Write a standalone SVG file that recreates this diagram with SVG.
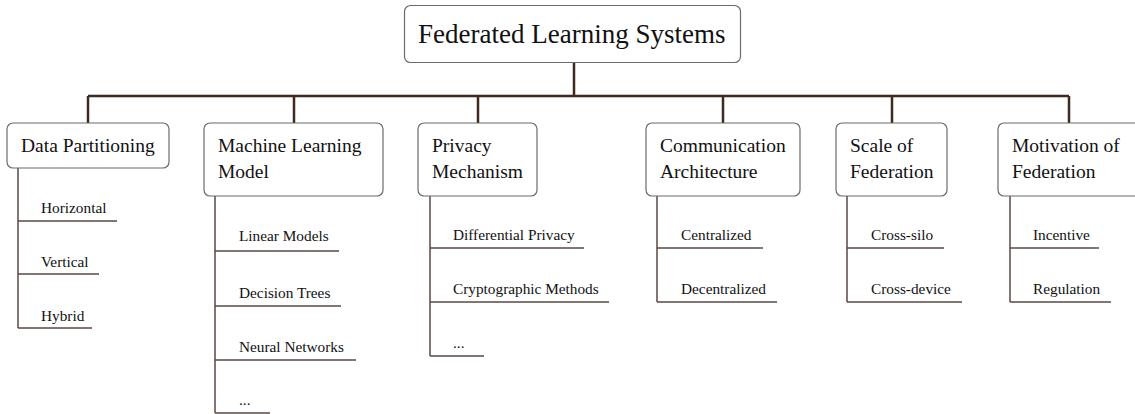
<svg xmlns="http://www.w3.org/2000/svg" width="1135" height="414" viewBox="0 0 1135 414">
<style>
.box{fill:#fff;stroke:#6b6b6b;stroke-width:1.2}
.bus{fill:none;stroke:#3d2a20;stroke-width:2.5}
.sub{fill:none;stroke:#5a4a44;stroke-width:1.5}
.t{font-family:"Liberation Serif","Times New Roman",serif;fill:#111}
.h{font-size:19.5px}
.s{font-size:15.3px}
</style>
<rect width="1135" height="414" fill="#fff"/>
<g id="connectors">
<path class="bus" d="M574 62V96M88 96H1069M88 96V123M294 96V123M478 96V123M723 96V123M892 96V123M1069 96V123"/>
<path class="sub" d="M18 168V328M18 221H117M18 274H99M18 328H92"/>
<path class="sub" d="M215 196V413M215 251H339M215 306H341M215 360H356M215 413H270"/>
<path class="sub" d="M430 196V356M430 248H584M430 302H609M430 356H484"/>
<path class="sub" d="M657 196V302M657 248H763M657 302H777"/>
<path class="sub" d="M847 196V302M847 248H944M847 302H962"/>
<path class="sub" d="M1010 196V302M1010 248H1099M1010 302H1111"/>
</g>
<g id="root">
<rect class="box" x="404.5" y="5.5" width="336" height="57" rx="6"/>
<text class="t" x="418" y="43" font-size="27">Federated Learning Systems</text>
</g>
<g id="data-partitioning">
<rect class="box" x="7" y="123" width="162" height="45" rx="6"/>
<text class="t h" x="21" y="152">Data Partitioning</text>
<text class="t s" x="41" y="213">Horizontal</text>
<text class="t s" x="41" y="267">Vertical</text>
<text class="t s" x="41" y="321">Hybrid</text>
</g>
<g id="ml-model">
<rect class="box" x="204" y="123" width="179" height="73" rx="6"/>
<text class="t h" x="218" y="152">Machine Learning</text>
<text class="t h" x="218" y="178">Model</text>
<text class="t s" x="239" y="241">Linear Models</text>
<text class="t s" x="239" y="298">Decision Trees</text>
<text class="t s" x="239" y="352">Neural Networks</text>
<text class="t s" x="239" y="405">...</text>
</g>
<g id="privacy">
<rect class="box" x="418" y="123" width="119" height="73" rx="6"/>
<text class="t h" x="432" y="152">Privacy</text>
<text class="t h" x="432" y="178">Mechanism</text>
<text class="t s" x="453" y="240">Differential Privacy</text>
<text class="t s" x="453" y="294">Cryptographic Methods</text>
<text class="t s" x="453" y="348">...</text>
</g>
<g id="communication">
<rect class="box" x="646" y="123" width="154" height="73" rx="6"/>
<text class="t h" x="660" y="152">Communication</text>
<text class="t h" x="660" y="178">Architecture</text>
<text class="t s" x="681" y="240">Centralized</text>
<text class="t s" x="681" y="294">Decentralized</text>
</g>
<g id="scale">
<rect class="box" x="836" y="123" width="111" height="73" rx="6"/>
<text class="t h" x="850" y="152">Scale of</text>
<text class="t h" x="850" y="178">Federation</text>
<text class="t s" x="871" y="240">Cross-silo</text>
<text class="t s" x="871" y="294">Cross-device</text>
</g>
<g id="motivation">
<rect class="box" x="998" y="123" width="145" height="73" rx="6"/>
<text class="t h" x="1012" y="152">Motivation of</text>
<text class="t h" x="1012" y="178">Federation</text>
<text class="t s" x="1033" y="240">Incentive</text>
<text class="t s" x="1033" y="294">Regulation</text>
</g>
</svg>
